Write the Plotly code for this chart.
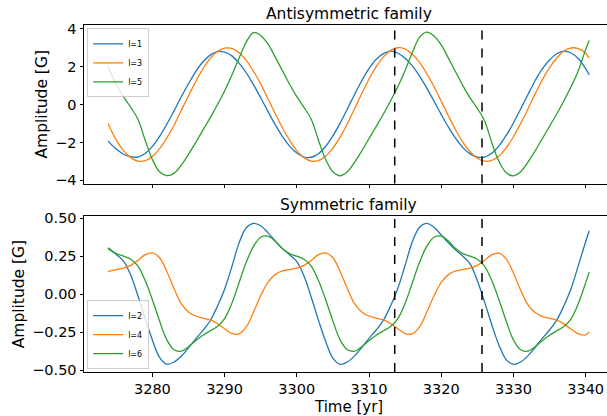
import plotly.graph_objects as go

# time axis (years)
time = [3273.85] + list(range(3275, 3341)) + [3340.5]

# Antisymmetric family
l1 = [-1.93, -2.35, -2.62, -2.75, -2.77, -2.58, -2.21, -1.68, -1.04, -0.33,
      0.41, 1.1, 1.74, 2.26, 2.61, 2.79, 2.77, 2.57, 2.19, 1.68,
      1.05, 0.36, -0.36, -1.05, -1.68, -2.19, -2.56, -2.77, -2.78, -2.6,
      -2.2, -1.65, -0.98, -0.23, 0.53, 1.26, 1.9, 2.39, 2.69, 2.82,
      2.71, 2.45, 2.04, 1.5, 0.87, 0.18, -0.52, -1.19, -1.78, -2.27,
      -2.6, -2.77, -2.77, -2.57, -2.18, -1.63, -0.97, -0.23, 0.52, 1.26,
      1.88, 2.35, 2.68, 2.82, 2.72, 2.42, 1.9, 1.57]
l3 = [-1.0, -1.88, -2.43, -2.8, -2.98, -2.96, -2.74, -2.33, -1.76, -1.09,
      -0.31, 0.47, 1.21, 1.88, 2.43, 2.8, 2.98, 2.96, 2.74, 2.33,
      1.76, 1.09, 0.31, -0.47, -1.21, -1.88, -2.43, -2.8, -2.98, -2.96,
      -2.73, -2.3, -1.72, -1.01, -0.22, 0.58, 1.35, 2.0, 2.52, 2.86,
      3.0, 2.93, 2.66, 2.23, 1.64, 0.95, 0.18, -0.6, -1.34, -1.98,
      -2.49, -2.83, -2.99, -2.95, -2.71, -2.28, -1.7, -1.0, -0.24, 0.55,
      1.3, 1.95, 2.46, 2.83, 2.99, 2.95, 2.71, 2.45]
l5 = [2.0, 1.07, 0.42, -0.15, -0.77, -1.88, -2.9, -3.55, -3.75, -3.63,
      -3.2, -2.63, -2.0, -1.35, -0.7, -0.01, 0.72, 1.55, 2.45, 3.3,
      3.8, 3.65, 3.2, 2.52, 1.8, 1.07, 0.42, -0.15, -0.77, -1.88,
      -2.9, -3.55, -3.76, -3.55, -3.05, -2.45, -1.8, -1.15, -0.5, 0.2,
      0.95, 1.8, 2.75, 3.55, 3.82, 3.62, 3.15, 2.45, 1.72, 1.0,
      0.35, -0.2, -0.85, -2.0, -3.0, -3.6, -3.76, -3.55, -3.05, -2.45,
      -1.8, -1.15, -0.5, 0.2, 0.95, 1.8, 2.9, 3.38]

# Symmetric family
l2 = [0.305, 0.262, 0.218, 0.126, -0.01, -0.16, -0.3, -0.415, -0.46, -0.446,
      -0.408, -0.353, -0.293, -0.238, -0.174, -0.08, 0.033, 0.18, 0.336, 0.437,
      0.466, 0.45, 0.405, 0.35, 0.3, 0.26, 0.215, 0.12, -0.02, -0.17,
      -0.31, -0.42, -0.461, -0.445, -0.405, -0.35, -0.29, -0.235, -0.17, -0.075,
      0.04, 0.19, 0.345, 0.44, 0.466, 0.44, 0.39, 0.338, 0.29, 0.25,
      0.2, 0.09, -0.05, -0.2, -0.335, -0.43, -0.461, -0.445, -0.405, -0.35,
      -0.29, -0.235, -0.17, -0.075, 0.04, 0.19, 0.345, 0.417]
l4 = [0.149, 0.162, 0.172, 0.19, 0.222, 0.26, 0.272, 0.24, 0.15, 0.038,
      -0.062, -0.116, -0.143, -0.157, -0.169, -0.192, -0.227, -0.258, -0.26, -0.215,
      -0.117, -0.01, 0.078, 0.129, 0.153, 0.162, 0.172, 0.19, 0.222, 0.26,
      0.272, 0.24, 0.15, 0.038, -0.062, -0.116, -0.143, -0.157, -0.169, -0.192,
      -0.227, -0.258, -0.26, -0.215, -0.117, -0.01, 0.078, 0.129, 0.153, 0.162,
      0.172, 0.19, 0.222, 0.26, 0.27, 0.232, 0.14, 0.027, -0.068, -0.12,
      -0.145, -0.158, -0.17, -0.195, -0.23, -0.26, -0.267, -0.247]
l6 = [0.3, 0.267, 0.25, 0.23, 0.185, 0.09, -0.036, -0.176, -0.3, -0.365,
      -0.374, -0.345, -0.305, -0.27, -0.24, -0.212, -0.16, -0.06, 0.075, 0.21,
      0.315, 0.375, 0.382, 0.35, 0.3, 0.267, 0.25, 0.23, 0.185, 0.09,
      -0.036, -0.176, -0.3, -0.365, -0.374, -0.345, -0.305, -0.27, -0.24, -0.212,
      -0.16, -0.06, 0.075, 0.21, 0.315, 0.375, 0.382, 0.35, 0.3, 0.267,
      0.25, 0.23, 0.185, 0.09, -0.036, -0.176, -0.3, -0.365, -0.374, -0.345,
      -0.305, -0.27, -0.24, -0.212, -0.16, -0.06, 0.075, 0.145]

markers = [3313.56, 3325.65]  # dashed vertical lines

colors = ["#1f77b4", "#ff7f0e", "#2ca02c"]
FONT = "DejaVu Sans, Liberation Sans, sans-serif"

fig = go.Figure()
for name, ys, c in zip(["l=1", "l=3", "l=5"], [l1, l3, l5], colors):
    fig.add_trace(go.Scatter(x=time, y=ys, mode="lines", name=name,
                             line=dict(color=c, width=1.3, shape="spline", smoothing=1),
                             xaxis="x", yaxis="y", legend="legend"))
for name, ys, c in zip(["l=2", "l=4", "l=6"], [l2, l4, l6], colors):
    fig.add_trace(go.Scatter(x=time, y=ys, mode="lines", name=name,
                             line=dict(color=c, width=1.3, shape="spline", smoothing=1),
                             xaxis="x2", yaxis="y2", legend="legend2"))

for m in markers:
    for xr_, yr_ in [("x", "y domain"), ("x2", "y2 domain")]:
        fig.add_shape(type="line", x0=m, x1=m, y0=0, y1=1, xref=xr_, yref=yr_,
                      line=dict(color="black", width=1.5, dash="dash"))

xr = [3270.53, 3342.96]
axis_common = dict(showline=True, linecolor="black", linewidth=1, ticks="outside",
                   ticklen=3.5, tickwidth=0.8, tickcolor="black", showgrid=False,
                   zeroline=False, automargin=False,
                   tickfont=dict(size=14.5, color="black", family=FONT))

fig.update_layout(
    width=607, height=416,
    margin=dict(l=84, r=0, t=25, b=44),
    paper_bgcolor="white", plot_bgcolor="white",
    font=dict(family=FONT, color="black", size=15),
    xaxis=dict(domain=[0, 1], range=xr, anchor="y", showticklabels=False,
               mirror=True, tickvals=[3280, 3290, 3300, 3310, 3320, 3330, 3340], **axis_common),
    yaxis=dict(domain=[0.543, 1], range=[-4.17, 4.2], anchor="x",
               tickvals=[-4, -2, 0, 2, 4],
               title=dict(text="Amplitude [G]", standoff=3, font=dict(size=15.5)), **axis_common),
    xaxis2=dict(domain=[0, 1], range=xr, anchor="y2", mirror=True,
                tickvals=[3280, 3290, 3300, 3310, 3320, 3330, 3340],
                **axis_common),
    yaxis2=dict(domain=[0, 0.449], range=[-0.511, 0.513], anchor="x2",
                tickvals=[-0.5, -0.25, 0, 0.25, 0.5], tickformat=".2f",
                title=dict(text="Amplitude [G]", standoff=3, font=dict(size=15.5)), **axis_common),
    legend=dict(x=0.006, y=0.99, xref="paper", yref="paper", xanchor="left", yanchor="top",
                bgcolor="rgba(255,255,255,0.8)", bordercolor="#cccccc", borderwidth=1,
                font=dict(size=8, family=FONT), itemwidth=30, tracegroupgap=0),
    legend2=dict(x=0.006, y=0.008, xanchor="left", yanchor="bottom",
                 bgcolor="rgba(255,255,255,0.8)", bordercolor="#cccccc", borderwidth=1,
                 font=dict(size=8, family=FONT), itemwidth=30, tracegroupgap=0),
    showlegend=True,
)

fig.add_annotation(text="Antisymmetric family", xref="paper", yref="paper",
                   x=0.506, y=1, xanchor="center", yanchor="bottom", yshift=0,
                   showarrow=False, font=dict(size=15.5, family=FONT))
fig.add_annotation(text="Symmetric family", xref="paper", yref="paper",
                   x=0.506, y=0.449, xanchor="center", yanchor="bottom", yshift=0,
                   showarrow=False, font=dict(size=15.5, family=FONT))
fig.add_annotation(text="Time [yr]", xref="paper", yref="paper",
                   x=0.506, y=0, xanchor="center", yanchor="top", yshift=-25,
                   borderpad=0, showarrow=False, font=dict(size=15, family=FONT))

fig.write_html("out.html")
